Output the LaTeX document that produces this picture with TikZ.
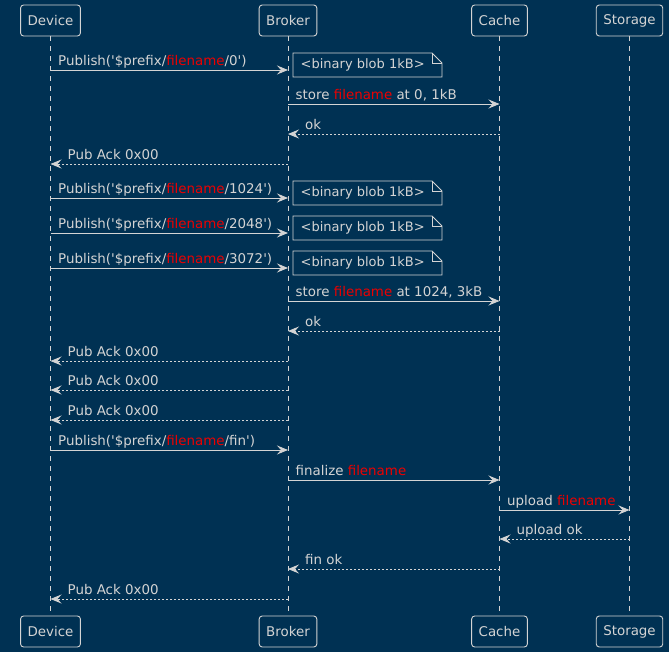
\documentclass[tikz,border=0pt]{standalone}
\usepackage{fontspec}
\setmainfont{DejaVu Sans}
\usetikzlibrary{arrows.meta}
\definecolor{bg}{RGB}{0,49,83}
\definecolor{fg}{RGB}{212,212,212}
\definecolor{hl}{RGB}{236,0,0}
\newcommand\fn{\textcolor{hl}{filename}}
\newcommand\q{\textquotesingle}
\newcommand\Msg[4]{%
  \draw[msg] (#1 |- 0,#3) -- (#2 |- 0,#3);
  \node[lbl] at ([xshift=7.5pt,yshift=4.5pt]#1 |- 0,#3) {#4};}
\newcommand\Ret[4]{%
  \draw[msg,ret] (#1 |- 0,#3) -- (#2 |- 0,#3);
  \node[lbl] at ([xshift=17pt,yshift=4.5pt]#2 |- 0,#3) {#4};}
\newcommand\Note[1]{%
  \draw[notebox] (293,#1-17) -- (432,#1-17) -- (442,#1-7) -- (442,#1+7) -- (293,#1+7) -- cycle;
  \draw[notebox] (432,#1-17) -- (432,#1-7) -- (442,#1-7);
  \node[lbl, font=\fontsize{13}{15}\selectfont] at (300.5,#1-1) {<binary blob 1kB>};}
\begin{document}
\begin{tikzpicture}[x=1pt,y=-1pt,
  font=\fontsize{13.4}{15}\selectfont,
  part/.style={draw=fg, line width=0.9pt, rounded corners=3pt, text=fg,
    minimum height=31pt, inner xsep=7pt, inner ysep=0pt},
  life/.style={draw=fg, line width=0.9pt, dash pattern=on 5pt off 5pt},
  msg/.style={draw=fg, line width=0.9pt,
    -{Stealth[length=11pt,width=9pt,inset=4pt,fill=fg]}},
  ret/.style={dash pattern=on 2pt off 2pt},
  lbl/.style={anchor=base west, inner sep=0pt, text=fg},
  notebox/.style={draw=fg, line width=0.9pt}]
\fill[bg] (0,0) rectangle (669,652);
\useasboundingbox (0,0) rectangle (669,652);
% participants
\node[part] (D1) at (50.5,20.5) {Device};
\node[part] (B1) at (288,20.5) {Broker};
\node[part] (C1) at (499.5,20.5) {Cache};
\node[part] (S1) at (629.5,20.5) {Storage};
\node[part] (D2) at (50.5,631.5) {Device};
\node[part] (B2) at (288,631.5) {Broker};
\node[part] (C2) at (499.5,631.5) {Cache};
\node[part] (S2) at (629.5,631.5) {Storage};
\draw[life] (D1) -- (D2);
\draw[life] (B1) -- (B2);
\draw[life] (C1) -- (C2);
\draw[life] (S1) -- (S2);
% messages
\Msg{D1}{B1}{70}{Publish(\q\$prefix/\fn/0\q)}
\Note{70}
\Msg{B1}{C1}{104}{store \fn\ at 0, 1kB}
\Ret{C1}{B1}{134}{ok}
\Ret{B1}{D1}{164}{Pub Ack 0x00}
\Msg{D1}{B1}{198}{Publish(\q\$prefix/\fn/1024\q)}
\Note{198}
\Msg{D1}{B1}{233}{Publish(\q\$prefix/\fn/2048\q)}
\Note{233}
\Msg{D1}{B1}{268}{Publish(\q\$prefix/\fn/3072\q)}
\Note{268}
\Msg{B1}{C1}{301}{store \fn\ at 1024, 3kB}
\Ret{C1}{B1}{331}{ok}
\Ret{B1}{D1}{361}{Pub Ack 0x00}
\Ret{B1}{D1}{390}{Pub Ack 0x00}
\Ret{B1}{D1}{420}{Pub Ack 0x00}
\Msg{D1}{B1}{450}{Publish(\q\$prefix/\fn/fin\q)}
\Msg{B1}{C1}{480}{finalize \fn}
\Msg{C1}{S1}{510}{upload \fn}
\Ret{S1}{C1}{539}{upload ok}
\Ret{C1}{B1}{569}{fin ok}
\Ret{B1}{D1}{599}{Pub Ack 0x00}
\end{tikzpicture}
\end{document}
